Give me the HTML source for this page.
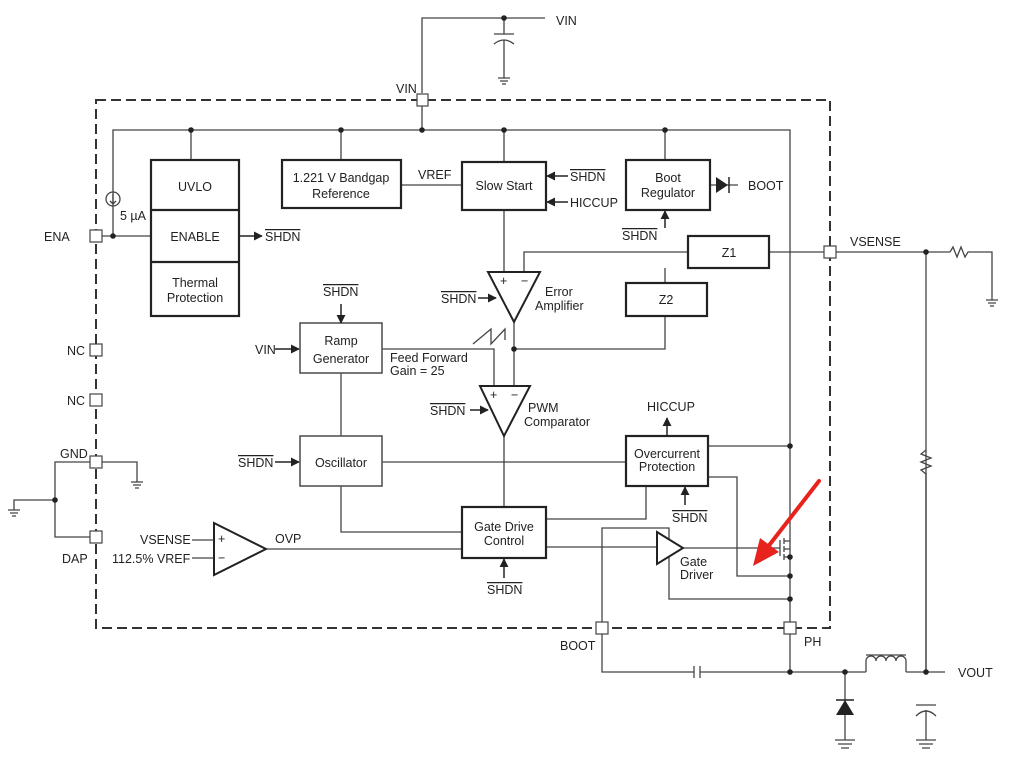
<!DOCTYPE html>
<html><head><meta charset="utf-8"><style>
html,body{margin:0;padding:0;background:#fff}
svg{display:block}
text{font-family:"Liberation Sans",sans-serif;font-size:12.5px;fill:#222}
</style></head><body>
<svg width="1026" height="759" viewBox="0 0 1026 759" xmlns="http://www.w3.org/2000/svg">
<defs>
<marker id="ar" viewBox="0 0 10 10" refX="9" refY="5" markerWidth="9" markerHeight="9" markerUnits="userSpaceOnUse" orient="auto"><path d="M0,0L10,5L0,10z" fill="#222"/></marker>
</defs>
<g stroke="#444" stroke-width="1.3" fill="none">
<path d="M422,93V18H545"/>
<path d="M504,18V34M494,34H514M494,44Q504,36 514,44M504,40V78"/>
<path d="M498,78H510M500,81H508M502,84H506"/>
<rect x="96" y="100" width="734" height="528" stroke="#333" stroke-width="2" stroke-dasharray="10,5"/>
<path d="M422,106V130M113,236V130H790V628"/>
<path d="M191,130V160M341,130V160M504,130V162M665,130V160"/>
<circle cx="113" cy="199" r="7"/>
<path d="M113,194V204M110,201L113,204L116,201"/>
<path d="M96,236H151"/>
<path d="M401,185H462"/>
<path d="M504,210V272"/>
<path d="M524,272V252H688M769,252H830"/>
<path d="M665,268V283M665,316V349H514"/>
<path d="M514,322V386"/>
<path d="M382,349H494V386"/>
<path d="M473,344L491,329V344L505,329V340"/>
<path d="M341,373V436M341,486V532H462"/>
<path d="M382,462H626"/>
<path d="M504,436V507"/>
<path d="M192,540H214M192,558H214M266,549H462"/>
<path d="M546,547H656M546,519H646V486"/>
<path d="M683,548H780"/>
<path d="M602,628V528H669V599H790"/>
<path d="M708,446H790M708,477H737V576H790"/>
<path d="M780,540V556M784,538V544M784,546V552M784,554V560M784,541H790M784,557H790M784,549H790"/>
<path d="M602,634V672H694M700,672H866M906,672H945"/>
<path d="M694,666V678M700,666V678"/>
<path d="M790,634V672"/>
<path d="M845,672V740M926,252V672"/>
<path d="M830,252H950M950,252L953,247L957,257L961,247L965,257L968,252H992V300"/>
<path d="M926,450L921,454L931,458L921,462L931,466L921,470L926,474V672"/>
<path d="M986,300H998M988,303H996M990,306H994"/>
<path d="M916,705H936M916,716Q926,706 936,716M926,710V740"/>
<path d="M866,672V661A5,5 0 0 1 876,661A5,5 0 0 1 886,661A5,5 0 0 1 896,661A5,5 0 0 1 906,661V672"/>
<path d="M866,655H906"/>
<path d="M835,740H855M838,744H852M841,748H849"/>
<path d="M916,740H936M919,744H933M922,748H930"/>
<path d="M102,462H137V482M131,482H143M133,485H141M135,488H139"/>
<path d="M92,462H55V537H92M55,500H14V510M8,510H20M10,513H18M12,516H16"/>
</g>
<path d="M836,715L845,700L854,715Z" fill="#222"/>
<path d="M836,700H854" stroke="#222" stroke-width="1.5"/>
<path d="M710,185H738" stroke="#444" stroke-width="1.3"/>
<path d="M716,177L728,185L716,193Z" fill="#222"/><path d="M729,177V193" stroke="#222" stroke-width="1.5"/>
<g fill="#222">
<circle cx="504" cy="18" r="2.8"/><circle cx="422" cy="130" r="2.8"/><circle cx="191" cy="130" r="2.8"/><circle cx="341" cy="130" r="2.8"/><circle cx="504" cy="130" r="2.8"/><circle cx="665" cy="130" r="2.8"/>
<circle cx="113" cy="236" r="2.8"/><circle cx="514" cy="349" r="2.8"/><circle cx="926" cy="252" r="2.8"/>
<circle cx="790" cy="446" r="2.8"/><circle cx="790" cy="557" r="2.8"/><circle cx="790" cy="576" r="2.8"/><circle cx="790" cy="599" r="2.8"/>
<circle cx="790" cy="672" r="2.8"/><circle cx="845" cy="672" r="2.8"/><circle cx="926" cy="672" r="2.8"/><circle cx="55" cy="500" r="2.8"/>
</g>
<g fill="#fff" stroke="#444" stroke-width="1.2">
<rect x="417" y="94" width="11" height="12"/><rect x="90" y="230" width="12" height="12"/><rect x="824" y="246" width="12" height="12"/>
<rect x="90" y="344" width="12" height="12"/><rect x="90" y="394" width="12" height="12"/><rect x="90" y="456" width="12" height="12"/><rect x="90" y="531" width="12" height="12"/>
<rect x="596" y="622" width="12" height="12"/><rect x="784" y="622" width="12" height="12"/>
</g>
<g fill="#fff" stroke="#222" stroke-width="2.2">
<rect x="151" y="160" width="88" height="156"/><path d="M151,210H239M151,262H239"/>
<rect x="282" y="160" width="119" height="48"/>
<rect x="462" y="162" width="84" height="48"/>
<rect x="626" y="160" width="84" height="50"/>
<rect x="688" y="236" width="81" height="32"/>
<rect x="626" y="283" width="81" height="33"/>
<rect x="626" y="436" width="82" height="50"/>
<rect x="462" y="507" width="84" height="51"/>
</g>
<g fill="#fff" stroke="#555" stroke-width="1.6">
<rect x="300" y="323" width="82" height="50"/>
<rect x="300" y="436" width="82" height="50"/>
</g>
<g fill="#fff" stroke="#222" stroke-width="2">
<path d="M488,272H540L514,322Z"/>
<path d="M480,386H530L504,436Z"/>
<path d="M214,523L266,549L214,575Z"/>
<path d="M657,532L683,548L657,564Z"/>
</g>
<g stroke="#222" stroke-width="1.5" marker-end="url(#ar)">
<path d="M239,236H262"/><path d="M568,176H547"/><path d="M568,202H547"/><path d="M665,228V211"/>
<path d="M478,298H496"/><path d="M341,304V323"/><path d="M275,349H299"/><path d="M470,410H488"/>
<path d="M275,462H299"/><path d="M667,436V418"/><path d="M685,505V487"/><path d="M504,578V559"/>
</g>
<text x="556" y="25">VIN</text><text x="396" y="93">VIN</text>
<text x="120" y="220">5 µA</text><text x="44" y="241">ENA</text>
<text x="195" y="191" text-anchor="middle">UVLO</text><text x="195" y="241" text-anchor="middle">ENABLE</text>
<text x="195" y="287" text-anchor="middle">Thermal</text><text x="195" y="302" text-anchor="middle">Protection</text>
<text x="341" y="182" text-anchor="middle">1.221 V Bandgap</text><text x="341" y="198" text-anchor="middle">Reference</text>
<text x="418" y="179">VREF</text><text x="504" y="190" text-anchor="middle">Slow Start</text>
<text x="668" y="182" text-anchor="middle">Boot</text><text x="668" y="197" text-anchor="middle">Regulator</text>
<text x="748" y="190">BOOT</text><text x="729" y="257" text-anchor="middle">Z1</text><text x="666" y="304" text-anchor="middle">Z2</text>
<text x="850" y="246">VSENSE</text>
<text x="500" y="285" font-size="10">+</text><text x="521" y="285" font-size="10">−</text>
<text x="490" y="399" font-size="10">+</text><text x="511" y="399" font-size="10">−</text>
<text x="545" y="296">Error</text><text x="535" y="310">Amplifier</text>
<text x="528" y="412">PWM</text><text x="524" y="426">Comparator</text>
<text x="341" y="345" text-anchor="middle">Ramp</text><text x="341" y="363" text-anchor="middle">Generator</text>
<text x="390" y="362">Feed Forward</text><text x="390" y="375">Gain = 25</text>
<text x="255" y="354">VIN</text><text x="341" y="467" text-anchor="middle">Oscillator</text>
<text x="667" y="458" text-anchor="middle">Overcurrent</text><text x="667" y="471" text-anchor="middle">Protection</text>
<text x="647" y="411">HICCUP</text><text x="570" y="207">HICCUP</text>
<text x="504" y="531" text-anchor="middle">Gate Drive</text><text x="504" y="545" text-anchor="middle">Control</text>
<text x="680" y="566">Gate</text><text x="680" y="579">Driver</text>
<text x="140" y="544">VSENSE</text><text x="112" y="563">112.5% VREF</text>
<text x="218" y="543" font-size="10">+</text><text x="218" y="562" font-size="10">−</text>
<text x="275" y="543">OVP</text>
<text x="67" y="355">NC</text><text x="67" y="405">NC</text><text x="60" y="458">GND</text><text x="62" y="563">DAP</text>
<text x="560" y="650">BOOT</text><text x="804" y="646">PH</text><text x="958" y="677">VOUT</text>
<text x="265" y="241" text-decoration="overline">SHDN</text>
<text x="570" y="181" text-decoration="overline">SHDN</text>
<text x="622" y="240" text-decoration="overline">SHDN</text>
<text x="441" y="303" text-decoration="overline">SHDN</text>
<text x="323" y="296" text-decoration="overline">SHDN</text>
<text x="430" y="415" text-decoration="overline">SHDN</text>
<text x="238" y="467" text-decoration="overline">SHDN</text>
<text x="672" y="522" text-decoration="overline">SHDN</text>
<text x="487" y="594" text-decoration="overline">SHDN</text>
<path d="M819,481L767,548" stroke="#e8231e" stroke-width="4" stroke-linecap="round"/>
<path d="M753,566L760,538L779,552Z" fill="#e8231e"/>
</svg>
</body></html>
